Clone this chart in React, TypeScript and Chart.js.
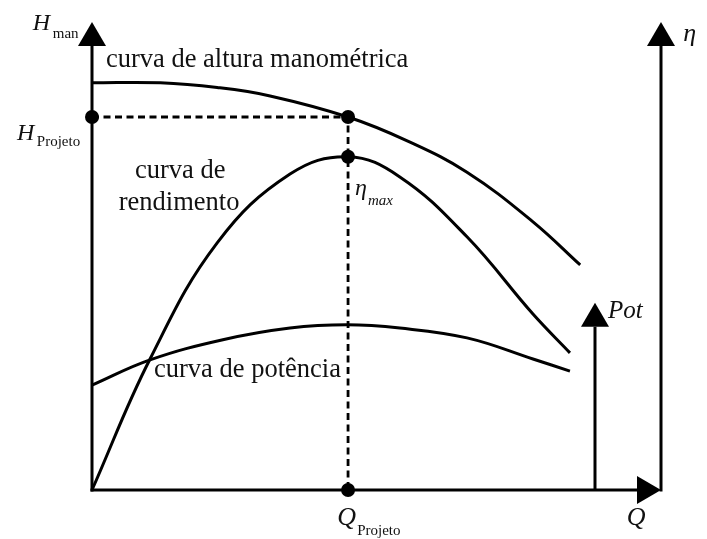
import React, { useEffect, useRef } from "react";
import { Chart, registerables } from "chart.js";

Chart.register(...registerables);

// ---- key values (schematic units: 0..100 on both axes) ----
const Q_PROJETO = 45;
const H_PROJETO = 79.7;
const ETA_MAX = 71.2;
const Q_POT_AXIS = 88.4;
const POT_AXIS_TOP = 40;
const AXIS_MAX = 100;

// curva de altura manométrica
const headQ = [0, 12, 22, 31.3, 45, 55.4, 65.9, 77.5, 85.8];
const headH = [87.0, 87.0, 86.0, 84.2, 79.7, 74.6, 67.9, 57.3, 48.1];

// curva de rendimento
const effQ = [0, 10.2, 22.0, 34.8, 45, 54.1, 65.9, 77.5, 84.0];
const effEta = [0, 28.0, 52.8, 67.5, 71.2, 66.9, 54.1, 37.6, 29.3];

// curva de potência
const potQ = [0, 10.2, 23.0, 34.8, 44.8, 54.1, 65.9, 77.5, 84.0];
const potP = [22.4, 27.8, 32.1, 34.6, 35.3, 34.6, 32.5, 28.0, 25.4];

const SERIF = '"Liberation Serif", "Times New Roman", serif';
const INK = "#111";

const toPts = (xs: number[], ys: number[]) => xs.map((x, i) => ({ x, y: ys[i] }));

const overlayPlugin = {
  id: "overlay",
  beforeDatasetsDraw(chart: any) {
    const { ctx, scales } = chart;
    const X = (v: number) => scales.x.getPixelForValue(v);
    const Y = (v: number) => scales.y.getPixelForValue(v);
    const L = 24;
    ctx.save();
    ctx.strokeStyle = "#000";
    ctx.lineWidth = 3;
    ctx.lineCap = "square";
    const line = (x1: number, y1: number, x2: number, y2: number) => {
      ctx.beginPath();
      ctx.moveTo(x1, y1);
      ctx.lineTo(x2, y2);
      ctx.stroke();
    };
    line(X(0), Y(0), X(0), Y(AXIS_MAX) + L);
    line(X(0), Y(0), X(AXIS_MAX) - L, Y(0));
    line(X(AXIS_MAX), Y(0), X(AXIS_MAX), Y(AXIS_MAX) + L);
    ctx.lineCap = "butt";
    line(X(Q_POT_AXIS), Y(0), X(Q_POT_AXIS), Y(POT_AXIS_TOP) + L);
    ctx.restore();
  },
  afterDatasetsDraw(chart: any) {
    const { ctx, scales } = chart;
    const X = (v: number) => scales.x.getPixelForValue(v);
    const Y = (v: number) => scales.y.getPixelForValue(v);
    const L = 24;
    const W = 14;
    ctx.save();
    ctx.fillStyle = "#000";
    const arrowUp = (tx: number, ty: number) => {
      ctx.beginPath();
      ctx.moveTo(tx, ty);
      ctx.lineTo(tx - W, ty + L);
      ctx.lineTo(tx + W, ty + L);
      ctx.closePath();
      ctx.fill();
    };
    const arrowRight = (tx: number, ty: number) => {
      ctx.beginPath();
      ctx.moveTo(tx, ty);
      ctx.lineTo(tx - L, ty - W);
      ctx.lineTo(tx - L, ty + W);
      ctx.closePath();
      ctx.fill();
    };
    arrowUp(X(0), Y(AXIS_MAX));
    arrowUp(X(AXIS_MAX), Y(AXIS_MAX));
    arrowUp(X(Q_POT_AXIS), Y(POT_AXIS_TOP));
    arrowRight(X(AXIS_MAX), Y(0));

    ctx.fillStyle = INK;
    ctx.textBaseline = "alphabetic";
    const text = (t: string, x: number, y: number, font: string, align: CanvasTextAlign = "left") => {
      ctx.font = font;
      ctx.textAlign = align;
      ctx.fillText(t, X(x), Y(y));
    };
    const big = `26.5px ${SERIF}`;
    const ital = (px: number) => `italic ${px}px ${SERIF}`;
    const sub = `15px ${SERIF}`;

    text("curva de altura manométrica", 2.46, 90.4, big);
    text("curva de", 15.5, 66.7, big, "center");
    text("rendimento", 15.3, 59.8, big, "center");
    text("curva de potência", 10.9, 24.1, big);

    text("η", 46.2, 63.0, ital(24));
    text("max", 48.5, 60.9, ital(15));

    text("Pot", 90.7, 36.8, ital(25));
    text("η", 103.9, 95.9, ital(26));
    text("Q", 94.0, -7.5, ital(26));

    text("Q", 43.1, -7.5, ital(26));
    text("Projeto", 46.6, -9.6, sub);

    text("H", -10.4, 98.2, ital(24));
    text("man", -6.9, 96.6, sub);

    text("H", -13.2, 74.8, ital(24));
    text("Projeto", -9.7, 73.6, sub);
    ctx.restore();
  },
};

export default function App() {
  const ref = useRef<HTMLCanvasElement | null>(null);
  useEffect(() => {
    if (!ref.current) return;
    const curve = (data: any[]) => ({
      data,
      borderColor: "#000",
      borderWidth: 3,
      pointRadius: 0,
      fill: false,
      tension: 0.4,
      clip: false as any,
    });
    const chart = new Chart(ref.current, {
      type: "line",
      data: {
        datasets: [
          {
            data: [
              { x: 0, y: H_PROJETO },
              { x: Q_PROJETO, y: H_PROJETO },
              { x: Q_PROJETO, y: ETA_MAX },
              { x: Q_PROJETO, y: 0 },
            ],
            showLine: false,
            pointRadius: 7,
            pointBackgroundColor: "#000",
            pointBorderWidth: 0,
            clip: false as any,
          },
          {
            data: [
              { x: 0, y: H_PROJETO },
              { x: Q_PROJETO, y: H_PROJETO },
              { x: Q_PROJETO, y: 0 },
            ],
            borderColor: "#000",
            borderWidth: 2.8,
            borderDash: [7, 4.5],
            pointRadius: 0,
            tension: 0,
            fill: false,
            clip: false as any,
          },
          curve(toPts(headQ, headH)),
          curve(toPts(effQ, effEta)),
          curve(toPts(potQ, potP)),
        ],
      },
      options: {
        responsive: false,
        animation: false,
        events: [],
        layout: { padding: { left: 92, right: 46, top: 22, bottom: 49 } },
        plugins: { legend: { display: false }, tooltip: { enabled: false }, title: { display: false } },
        scales: {
          x: { type: "linear", min: 0, max: AXIS_MAX, display: false },
          y: { type: "linear", min: 0, max: AXIS_MAX, display: false },
        },
      },
      plugins: [overlayPlugin],
    });
    return () => chart.destroy();
  }, []);
  return (
    <div style={{ position: "fixed", left: 0, top: 0, width: 707, height: 539, background: "#fff" }}>
      <canvas ref={ref} width={707} height={539} style={{ display: "block" }} />
    </div>
  );
}
